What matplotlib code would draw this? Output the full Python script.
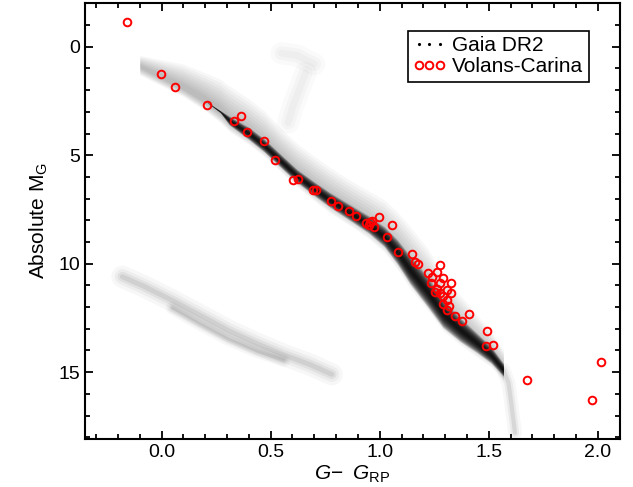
import numpy as np
import matplotlib
matplotlib.use("Agg")
import matplotlib.pyplot as plt

plt.rcParams['font.family'] = ['Liberation Sans', 'DejaVu Sans']
plt.rcParams['mathtext.fontset'] = 'custom'
plt.rcParams['mathtext.rm'] = 'Liberation Sans'
plt.rcParams['mathtext.it'] = 'Liberation Sans:italic'

# Volans-Carina members (G - G_RP, absolute G)
vc_color = [-0.16, -0.005, 0.061, 0.206, 0.333, 0.362, 0.390, 0.468, 0.518, 0.601,
            0.627, 0.696, 0.708, 0.777, 0.810, 0.858, 0.893, 0.937, 0.952, 0.956,
            0.963, 0.974, 0.997, 1.056, 1.032, 1.083, 1.150, 1.162, 1.177, 1.274,
            1.219, 1.261, 1.238, 1.292, 1.235, 1.277, 1.326, 1.261, 1.307, 1.254,
            1.274, 1.326, 1.292, 1.307, 1.292, 1.319, 1.307, 1.345, 1.376, 1.411,
            1.491, 1.488, 1.521, 1.676, 2.012, 1.975]
vc_mag = [-1.12, 1.26, 1.84, 2.69, 3.42, 3.19, 3.95, 4.36, 5.22, 6.13,
          6.10, 6.60, 6.60, 7.11, 7.33, 7.59, 7.79, 8.11, 8.22, 8.06,
          8.02, 8.32, 7.86, 8.22, 8.77, 9.47, 9.57, 9.91, 10.03, 10.05,
          10.41, 10.40, 10.63, 10.68, 10.90, 10.90, 10.90, 11.18, 11.21, 11.29,
          11.36, 11.36, 11.49, 11.67, 11.86, 11.95, 12.13, 12.41, 12.65, 12.33,
          13.09, 13.78, 13.75, 15.38, 14.55, 16.30]

# Gaia DR2 field: main sequence ridge
ms_color = np.array([-0.10, 0.00, 0.10, 0.20, 0.27, 0.31, 0.40, 0.47, 0.55, 0.62, 0.70,
                     0.77, 0.88, 0.95, 1.02, 1.08, 1.14, 1.22, 1.29, 1.37, 1.445, 1.51, 1.567])
ms_ridge = np.array([0.9, 1.4, 1.9, 2.5, 3.0, 3.4, 4.0, 4.55, 5.3, 5.95, 6.55,
                     7.05, 7.75, 8.2, 8.75, 9.45, 10.3, 11.3, 12.3, 13.05, 13.65, 14.2, 14.9])
ms_core = np.array([0.0, 0.0, 0.0, 0.0, 0.05, 0.2, 0.28, 0.3, 0.3, 0.3, 0.32,
                    0.34, 0.37, 0.4, 0.46, 0.56, 0.65, 0.7, 0.65, 0.55, 0.45, 0.38, 0.3])
ms_halo_up = np.array([0.5, 0.8, 1.1, 1.3, 1.5, 1.6, 1.6, 1.6, 1.5, 1.5, 1.5,
                       1.5, 1.5, 1.55, 1.7, 1.85, 2.0, 2.0, 1.8, 1.6, 1.3, 1.1, 0.9])
ms_halo_dn = np.array([0.4, 0.4, 0.4, 0.45, 0.5, 0.5, 0.5, 0.5, 0.5, 0.5, 0.55,
                       0.6, 0.6, 0.65, 0.7, 0.8, 0.85, 0.85, 0.8, 0.7, 0.65, 0.55, 0.5])

# faint M-dwarf tail below the sequence end
tail_color = [1.567, 1.59, 1.60, 1.61, 1.62]
tail_mag = [14.9, 15.5, 16.2, 17.0, 17.8]

# red clump / giant branch and subgiant column
clump_color = [0.55, 0.62, 0.70]
clump_mag = [0.3, 0.4, 0.8]
sgb_color = [0.66, 0.63, 0.60, 0.58]
sgb_mag = [1.2, 2.0, 2.8, 3.5]

# white dwarf sequences
wd_a_color = [-0.18, -0.08, 0.05, 0.18, 0.31, 0.44, 0.56, 0.68, 0.78]
wd_a_mag = [10.6, 11.05, 11.7, 12.4, 13.1, 13.7, 14.2, 14.65, 15.1]
wd_b_color = [0.05, 0.18, 0.31, 0.44, 0.56]
wd_b_mag = [12.05, 12.8, 13.5, 14.05, 14.45]

fig = plt.figure(figsize=(6.33, 4.87), dpi=100)
ax = fig.add_axes([0.134, 0.0986, 0.845, 0.8959])

# field density, built up from translucent layers
for f in np.linspace(1.0, 0.2, 9):
    ax.fill_between(ms_color, ms_ridge - f * ms_halo_up, ms_ridge + f * ms_halo_dn,
                    color='k', alpha=0.03, lw=0)
for f in np.linspace(1.0, 0.12, 10):
    ax.fill_between(ms_color, ms_ridge - f * ms_core, ms_ridge + f * ms_core,
                    color='k', alpha=0.2, lw=0)
for lw, a in [(10, 0.03), (6, 0.05), (3, 0.08)]:
    ax.plot(tail_color, tail_mag, color='k', lw=lw, alpha=a, solid_capstyle='round')
for lw, a in [(16, 0.02), (10, 0.025), (5, 0.025)]:
    ax.plot(clump_color, clump_mag, color='k', lw=lw, alpha=a, solid_capstyle='round')
    ax.plot(sgb_color, sgb_mag, color='k', lw=lw, alpha=a, solid_capstyle='round')
for lw, a in [(16, 0.03), (11, 0.04), (7, 0.05), (3.5, 0.07)]:
    ax.plot(wd_a_color, wd_a_mag, color='k', lw=lw, alpha=a, solid_capstyle='round')
    ax.plot(wd_b_color, wd_b_mag, color='k', lw=lw * 0.6, alpha=a, solid_capstyle='round')

# legend proxy for the field stars
ax.plot([], [], ls='none', marker='.', ms=2.5, color='k', label='Gaia DR2')
ax.plot(vc_color, vc_mag, ls='none', marker='o', ms=5.5, mfc='none', mec='red',
        mew=1.4, label='Volans-Carina')

ax.set_xlim(-0.352, 2.10)
ax.set_ylim(18.08, -2.03)
ax.set_xticks([0.0, 0.5, 1.0, 1.5, 2.0])
ax.set_xticks(np.arange(-0.3, 2.11, 0.1), minor=True)
ax.set_yticks([0, 5, 10, 15])
ax.set_yticks(np.arange(-2, 19, 1), minor=True)
ax.tick_params(which='both', direction='in', top=True, right=True, labelsize=14, width=1.3)
ax.tick_params(which='major', length=6)
ax.tick_params(which='minor', length=3.5)
for s in ax.spines.values():
    s.set_linewidth(1.5)

ax.set_xlabel(r'$G\!-\ G_{\rm RP}$', fontsize=15, labelpad=2)
ax.set_ylabel(r'Absolute M$_{\rm G}$', fontsize=15, labelpad=6)

leg = ax.legend(loc='upper right', bbox_to_anchor=(0.942, 0.935), numpoints=3,
                fontsize=15, fancybox=False, framealpha=1, edgecolor='k',
                handlelength=1.6, handletextpad=0.3, borderpad=0.25, labelspacing=0.1,
                borderaxespad=0)
leg.get_frame().set_linewidth(1.2)

fig.savefig('out.png', dpi=100)
